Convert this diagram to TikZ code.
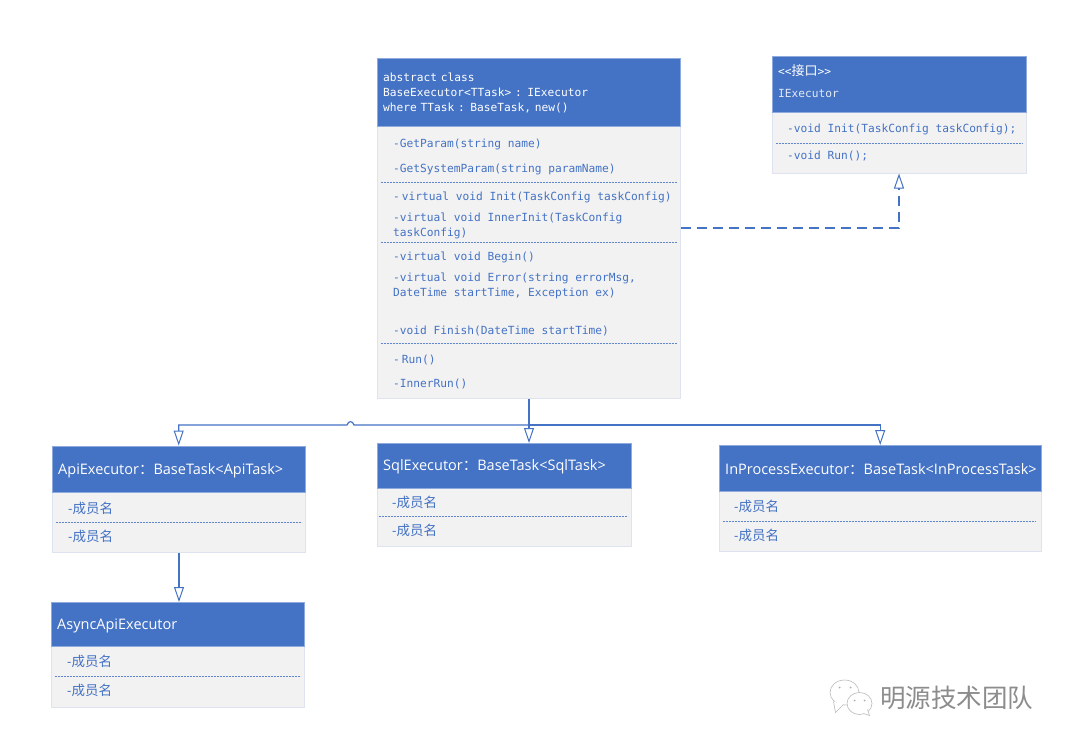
\documentclass[tikz,border=0pt]{standalone}
\usepackage{fontspec}
\usetikzlibrary{arrows.meta}
\newfontfamily\codefont{DejaVu Sans Mono}
\newfontfamily\headfont{Open Sans}
\newfontfamily\cjkfont{Noto Sans CJK SC}
\definecolor{umlblue}{HTML}{4472C4}
\definecolor{umlgray}{HTML}{F2F2F2}
\definecolor{umledge}{HTML}{DDE3EF}
\definecolor{headedge}{HTML}{8FAADC}
\definecolor{markgray}{HTML}{8C8C8C}
\newcommand{\cjk}[1]{{\cjkfont #1}}
\newcommand{\membername}{-\cjk{成员名}}
\tikzset{
    classhead/.style={draw=headedge, fill=umlblue, text=white, anchor=north west, inner xsep=5.5pt, inner ysep=0pt, align=left},
    classbody/.style={draw=umledge, line width=1pt, fill=umlgray, anchor=north west, inner sep=0pt},
    member/.style={anchor=west, inner sep=0pt, xshift=0.5pt, yshift=-2pt, text=umlblue, align=left, font=\codefont\fontsize{11.2}{15}\selectfont},
    cjkmember/.style={anchor=west, inner sep=0pt, xshift=0.5pt, yshift=-2.5pt, text=umlblue, font=\headfont\fontsize{13.5}{15}\selectfont},
    headtext/.style={font=\headfont\fontsize{14.5}{16}\selectfont, execute at begin node=\rule{0pt}{14pt}},
    codehead/.style={font=\codefont\fontsize{11.2}{15}\selectfont},
    sepline/.style={umlblue!85, line width=1pt, dash pattern=on 2pt off 1pt},
    inherit/.style={umlblue, line width=1.2pt, -{Triangle[open, fill=white, length=15pt, width=10pt, line width=1pt]}},
    markline/.style={draw=markgray!60, fill=white, line width=0.6pt}
}

\begin{document}
\begin{tikzpicture}[x=1pt, y=-1pt]
    \fill[white] (0.5,0.5) rectangle (1068.5,744.5);
    \useasboundingbox (0.5,0.5) rectangle (1068.5,744.5);

    % BaseExecutor
    \node[classbody, minimum width=303pt, minimum height=340pt] (basebody) at (377.5,58) {};
    \node[classhead, codehead, minimum width=303pt, minimum height=68pt, text width=291pt] (basehead) at (377.5,58) {\rule{0pt}{11pt}abstract class\\BaseExecutor<TTask> : IExecutor\\where TTask : BaseTask, new()};
    \node[member] (getparam) at (393,143) {-GetParam(string name)};
    \node[member] (getsysparam) at (393,168) {-GetSystemParam(string paramName)};
    \node[member] (baseinit) at (393,196) {-\kern2pt virtual void Init(TaskConfig taskConfig)};
    \node[member] (innerinit) at (393,224.5) {-virtual void InnerInit(TaskConfig\\taskConfig)};
    \node[member] (begin) at (393,256) {-virtual void Begin()};
    \node[member] (error) at (393,284.5) {-virtual void Error(string errorMsg,\\DateTime startTime, Exception ex)};
    \node[member] (finish) at (393,329) {-void Finish(DateTime startTime)};
    \node[member] (baserun) at (393,358) {-\kern2pt Run()};
    \node[member] (innerrun) at (393,382) {-InnerRun()};
    \foreach \y in {183,242.5,344}
        \draw[sepline] (381,\y) -- (677,\y);

    % IExecutor
    \node[classbody, minimum width=254pt, minimum height=117pt] (ifacebody) at (772.5,56) {};
    \node[classhead, codehead, minimum width=254pt, minimum height=56pt, text width=242pt] (ifacehead) at (772.5,56) {\rule{0pt}{16pt}<<{\cjkfont\fontsize{13}{15}\selectfont 接口}>>\\[7pt]\textcolor{white!85!umlblue}{IExecutor}\rule[-10pt]{0pt}{0pt}};
    \node[member] (ifaceinit) at (787,127.5) {-void Init(TaskConfig taskConfig);};
    \node[member] (ifacerun) at (787,155) {-void Run();};
    \draw[sepline] (776,144) -- (1023,144);

    % ApiExecutor
    \node[classbody, minimum width=253pt, minimum height=106.5pt] (apibody) at (52.5,446) {};
    \node[classhead, headtext, minimum width=253pt, minimum height=46.5pt, text width=241pt] (apihead) at (52.5,446) {ApiExecutor\cjk{：}BaseTask<ApiTask>};
    \node[cjkmember] (apifirst) at (68,506) {\membername};
    \node[cjkmember] (apisecond) at (68,534) {\membername};
    \draw[sepline] (56,523) -- (302,523);

    % AsyncApiExecutor
    \node[classbody, minimum width=253pt, minimum height=104.5pt] (asyncbody) at (51.5,602.5) {};
    \node[classhead, headtext, minimum width=253pt, minimum height=44pt, text width=241pt] (asynchead) at (51.5,602.5) {AsyncApiExecutor};
    \node[cjkmember] (asyncfirst) at (67,659) {\membername};
    \node[cjkmember] (asyncsecond) at (67,688) {\membername};
    \draw[sepline] (55,677) -- (301,677);

    % SqlExecutor
    \node[classbody, minimum width=254pt, minimum height=103pt] (sqlbody) at (377.5,443.5) {};
    \node[classhead, headtext, minimum width=254pt, minimum height=45pt, text width=242pt] (sqlhead) at (377.5,443.5) {SqlExecutor\cjk{：}BaseTask<SqlTask>};
    \node[cjkmember] (sqlfirst) at (392,500) {\membername};
    \node[cjkmember] (sqlsecond) at (392,528) {\membername};
    \draw[sepline] (379,517) -- (628,517);

    % InProcessExecutor
    \node[classbody, minimum width=322pt, minimum height=106pt] (procbody) at (719.5,445.5) {};
    \node[classhead, headtext, minimum width=322pt, minimum height=45.5pt, text width=310pt] (prochead) at (719.5,445.5) {InProcessExecutor\cjk{：}BaseTask<InProcessTask>};
    \node[cjkmember] (procfirst) at (734,504) {\membername};
    \node[cjkmember] (procsecond) at (734,533) {\membername};
    \draw[sepline] (723,521.5) -- (1036,521.5);

    % Edges with arrows
    \coordinate (bus) at (529,425.5);
    \coordinate (implcorner) at (899.5,228.5);
    \draw[inherit, line width=1.5pt, dash pattern=on 10pt off 6pt] (basebody.east |- implcorner) -- (implcorner) -- (implcorner |- ifacebody.south);
    \draw[inherit, line width=2pt] (basebody.south) -- (basebody.south |- sqlhead.north);
    \draw[inherit] (bus) -- (354.5,425.5) .. controls (353,421) and (349,421) .. (347.5,425.5) -| (apihead.north);
    \draw[inherit] (bus) -| (prochead.north);
    \draw[inherit] (apibody.south) -- (apibody.south |- asynchead.north);

    % Watermark
    \draw[markline] (845,693) ellipse (14.5pt and 12.5pt);
    \draw[markline] (834,702) -- (836,713) -- (844,705);
    \draw[markline] (860,704) ellipse (12.5pt and 11pt);
    \draw[markline] (864,714) -- (870,716) -- (868,710);
    \fill[markgray!70] (840,688) circle (1pt) (851,688) circle (1pt) (855,701) circle (1pt) (865,701) circle (1pt);
    \node[anchor=west, inner sep=0pt, text=markgray, font=\cjkfont\fontsize{25.5}{28}\selectfont] (watermark) at (880.5,698) {明源技术团队};
\end{tikzpicture}
\end{document}
